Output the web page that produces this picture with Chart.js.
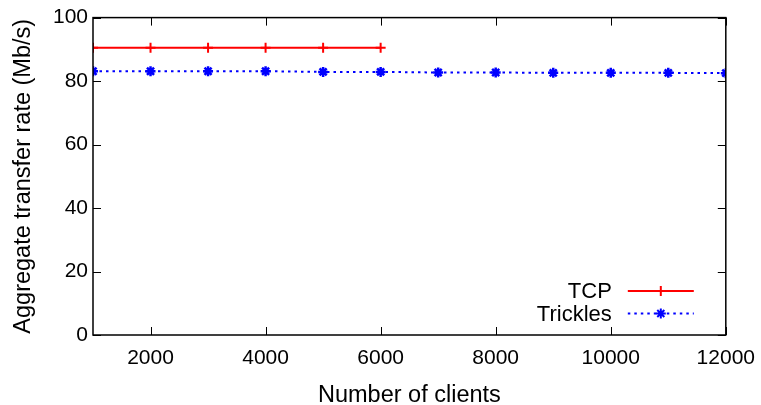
<!DOCTYPE html>
<html>
<head>
<meta charset="utf-8">
<script src="https://cdn.jsdelivr.net/npm/chart.js@4/dist/chart.umd.min.js"></script>
<style>
	html, body { margin: 0; padding: 0; background: #fff; }
	#wrap { width: 761px; height: 405px; }
</style>
</head>
<body>
<div id="wrap"><canvas id="chart"></canvas></div>
<script>
// data
const clients = [1000, 2000, 3000, 4000, 5000, 6000, 7000, 8000, 9000, 10000, 11000, 12000];
const tcpRate = [90.5, 90.5, 90.5, 90.5, 90.5, 90.5];
const tricklesRate = [83.1, 83.1, 83.1, 83.1, 82.9, 82.9, 82.7, 82.7, 82.6, 82.6, 82.6, 82.5];
const xTicks = [2000, 4000, 6000, 8000, 10000, 12000];
const yTicks = [0, 20, 40, 60, 80, 100];

const FONT = "'Liberation Sans', Arial, Helvetica, sans-serif";

const toPoints = (vals) => vals.map((v, i) => ({ x: clients[i], y: v }));

// gnuplot-style frame with inward ticks on all four sides
const framePlugin = {
	id: "frame",
	afterDraw(chart) {
		const { ctx, chartArea: a, scales } = chart;
		const len = 8;
		ctx.save();
		ctx.strokeStyle = "#000";
		ctx.lineWidth = 1.5;
		ctx.strokeRect(a.left, a.top, a.right - a.left, a.bottom - a.top);
		ctx.beginPath();
		scales.x.ticks.forEach((t) => {
			const px = Math.round(scales.x.getPixelForValue(t.value)) + 0.5;
			ctx.moveTo(px, a.bottom); ctx.lineTo(px, a.bottom - len);
			ctx.moveTo(px, a.top); ctx.lineTo(px, a.top + len);
		});
		scales.y.ticks.forEach((t) => {
			const py = Math.round(scales.y.getPixelForValue(t.value)) + 0.5;
			ctx.moveTo(a.left, py); ctx.lineTo(a.left + len, py);
			ctx.moveTo(a.right, py); ctx.lineTo(a.right - len, py);
		});
		ctx.lineWidth = 1;
		ctx.stroke();
		ctx.restore();
	},
};

// legend in the lower right: label text, then line sample with marker
const legendPlugin = {
	id: "insideLegend",
	afterDatasetsDraw(chart) {
		const { ctx, chartArea: a } = chart;
		const textRight = a.right - 114;
		const lineL = a.right - 98, lineR = a.right - 32;
		ctx.save();
		ctx.font = "22px " + FONT;
		ctx.textAlign = "right";
		ctx.textBaseline = "middle";
		chart.data.datasets.forEach((ds, i) => {
			const y = a.bottom - 44 + i * 22.5;
			ctx.fillStyle = "#000";
			ctx.fillText(ds.label, textRight, y + 1);
			ctx.strokeStyle = ds.borderColor;
			ctx.lineWidth = ds.borderWidth;
			ctx.setLineDash(ds.borderDash || []);
			ctx.beginPath();
			ctx.moveTo(lineL, y); ctx.lineTo(lineR, y);
			ctx.stroke();
			ctx.setLineDash([]);
			Chart.helpers.drawPoint(ctx, {
				pointStyle: ds.pointStyle,
				radius: ds.pointRadius,
				borderWidth: ds.pointBorderWidth,
			}, (lineL + lineR) / 2, y);
		});
		ctx.restore();
	},
};

new Chart(document.getElementById("chart"), {
	type: "line",
	data: {
		datasets: [
			{
				label: "TCP",
				data: toPoints(tcpRate),
				borderColor: "#ff0000",
				backgroundColor: "#ff0000",
				borderWidth: 2,
				pointStyle: "cross",
				pointRadius: 5,
				pointBorderWidth: 2,
				pointBorderColor: "#ff0000",
				tension: 0,
			},
			{
				label: "Trickles",
				data: toPoints(tricklesRate),
				borderColor: "#0000ff",
				backgroundColor: "#0000ff",
				borderWidth: 2,
				borderDash: [2.5, 4],
				pointStyle: "star",
				pointRadius: 5,
				pointBorderWidth: 2.5,
				pointBorderColor: "#0000ff",
				tension: 0,
			},
		],
	},
	options: {
		responsive: true,
		maintainAspectRatio: false,
		animation: false,
		layout: { padding: { top: 15, right: 35, left: 0, bottom: 0 } },
		plugins: {
			legend: { display: false },
			tooltip: { enabled: false },
		},
		scales: {
			x: {
				type: "linear",
				min: 1000,
				max: 12000,
				afterBuildTicks: (s) => { s.ticks = xTicks.map((v) => ({ value: v })); },
				afterFit: (s) => { s.height = 70; },
				grid: { display: false, drawTicks: true, tickLength: 5 },
				border: { display: false },
				ticks: {
					color: "#000",
					font: { family: FONT, size: 21 },
					padding: 6,
					maxRotation: 0,
					callback: (v) => String(v),
				},
				title: {
					display: true,
					text: "Number of clients",
					color: "#000",
					font: { family: FONT, size: 23.5 },
					padding: { top: 0, bottom: -5 },
				},
			},
			y: {
				min: 0,
				max: 100,
				afterBuildTicks: (s) => { s.ticks = yTicks.map((v) => ({ value: v })); },
				afterFit: (s) => { s.width = 93; },
				grid: { display: false, drawTicks: false },
				border: { display: false },
				ticks: {
					color: "#000",
					font: { family: FONT, size: 21 },
					padding: 5,
					callback: (v) => String(v),
				},
				title: {
					display: true,
					text: "Aggregate transfer rate (Mb/s)",
					color: "#000",
					font: { family: FONT, size: 23.5 },
					padding: { top: 9, bottom: 0 },
				},
			},
		},
	},
	plugins: [framePlugin, legendPlugin],
});
</script>
</body>
</html>
